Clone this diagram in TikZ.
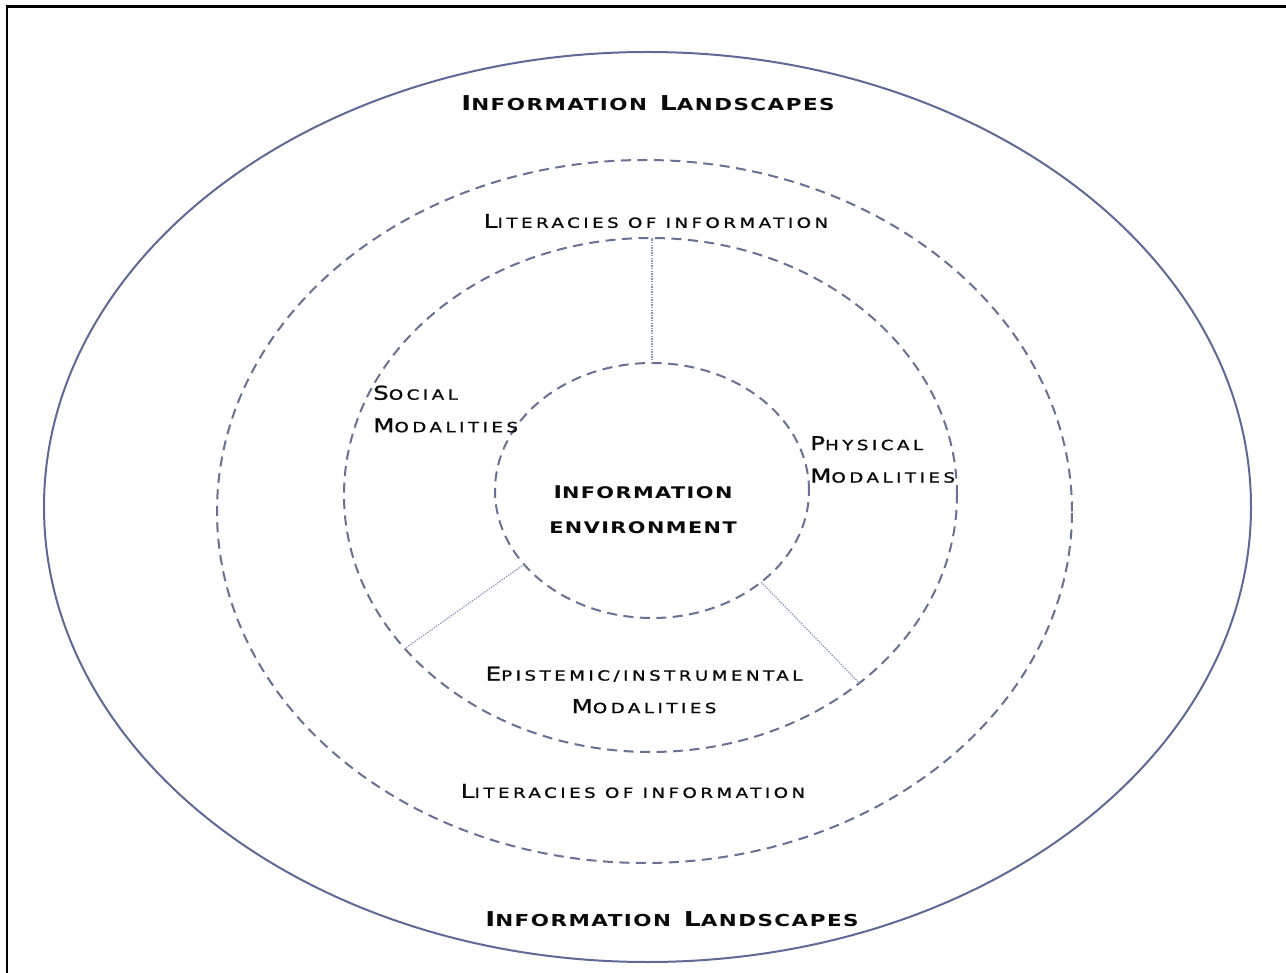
\documentclass[tikz,border=0pt]{standalone}
\usepackage{fontspec}
\usetikzlibrary{shapes.geometric}
\newfontfamily\cpr[FakeStretch=1.3,LetterSpace=25,FakeBold=1.2]{DejaVu Sans}
\newfontfamily\cpb[FakeStretch=1.3,LetterSpace=9]{DejaVu Sans}
\newcommand\cpBigR[1]{{\fontsize{19}{33}\selectfont #1}}
\newcommand\cpSmR[1]{{\fontsize{14}{33}\selectfont #1}}
\newcommand\cpBigB[1]{{\fontsize{20.5}{35}\selectfont #1}}
\newcommand\cpSmB[1]{{\fontsize{16.5}{35}\selectfont #1}}
\newcommand\cpMidB[1]{{\fontsize{17.5}{35}\selectfont #1}}
\newcommand\cpSmBB[1]{{\fontsize{16}{35}\selectfont #1}}
\definecolor{ringcol}{RGB}{95,105,150}
\definecolor{dashcol}{RGB}{105,112,148}
\definecolor{linkcol}{RGB}{140,148,188}
\definecolor{txtcol}{RGB}{10,10,10}
\tikzset{
  ring/.style={ellipse, inner sep=0pt, outer sep=0pt, line width=2pt},
  solidring/.style={ring, draw=ringcol},
  dashring/.style={ring, draw=dashcol, dash pattern=on 10pt off 6.5pt},
  link/.style={draw=linkcol, line width=1.2pt, dash pattern=on 1.4pt off 1.2pt},
  lbl/.style={text=txtcol, inner sep=0pt, font=\cpr\fontsize{14}{32.5}\selectfont},
  blbl/.style={text=txtcol, inner sep=0pt, font=\cpb\bfseries\fontsize{16}{35}\selectfont},
}
\begin{document}
\begin{tikzpicture}[x=1pt,y=-1pt]
\useasboundingbox (0,0) rectangle (1286,973);
\fill[white] (0,0) rectangle (1286,973);
% frame (only top and left edges are visible)
\draw[line width=2.5pt, black] (7,973) -- (7,6.5) -- (1286,6.5);

% rings
\node[solidring, minimum width=1207pt, minimum height=910pt] (outer) at (647.5,507) {};
\node[dashring, minimum width=855pt, minimum height=703pt] (lit) at (644.5,511.5) {};
\node[dashring, minimum width=613pt, minimum height=514pt] (mod) at (650.5,495) {};
\node[dashring, minimum width=314pt, minimum height=255pt] (env) at (652,490.5) {};

% dividers
\coordinate (topend) at (env.north |- mod.north);
\draw[link] (env.north) -- (topend);
\draw[link] (env.210.6) -- (mod.212.3);
\draw[link] (env.320.5) -- (mod.318.6);

% labels
\node[blbl] (landtop) at (648,103) {\cpBigB{I}\cpSmB{NFORMATION\hspace{4pt}} \cpBigB{L}\cpSmB{ANDSCAPES}};
\node[blbl] (landbot) at (672,919) {\cpBigB{I}\cpSmB{NFORMATION\hspace{4pt}} \cpBigB{L}\cpSmB{ANDSCAPES}};
\node[lbl] (littop) at (656,221) {\cpBigR{L}\cpSmR{ITERACIES OF INFORMATION}};
\node[lbl] (litbot) at (633,791) {\cpBigR{L}\cpSmR{ITERACIES OF INFORMATION}};
\node[lbl, anchor=west, align=left] (social) at (373,409) {\cpBigR{S}\cpSmR{OCIAL}\\\cpBigR{M}\cpSmR{ODALITIES}};
\node[lbl, anchor=west, align=left] (physical) at (810,459.5) {\cpBigR{P}\cpSmR{HYSICAL}\\\cpBigR{M}\cpSmR{ODALITIES}};
\node[blbl, align=center] (envlbl) at (643,509.5) {\cpMidB{I}\cpSmBB{NFORMATION}\\\cpSmBB{ENVIRONMENT}};
\node[lbl, align=center] (epist) at (644,690) {\cpBigR{E}\cpSmR{PISTEMIC/INSTRUMENTAL}\\\cpBigR{M}\cpSmR{ODALITIES}};
\end{tikzpicture}
\end{document}
